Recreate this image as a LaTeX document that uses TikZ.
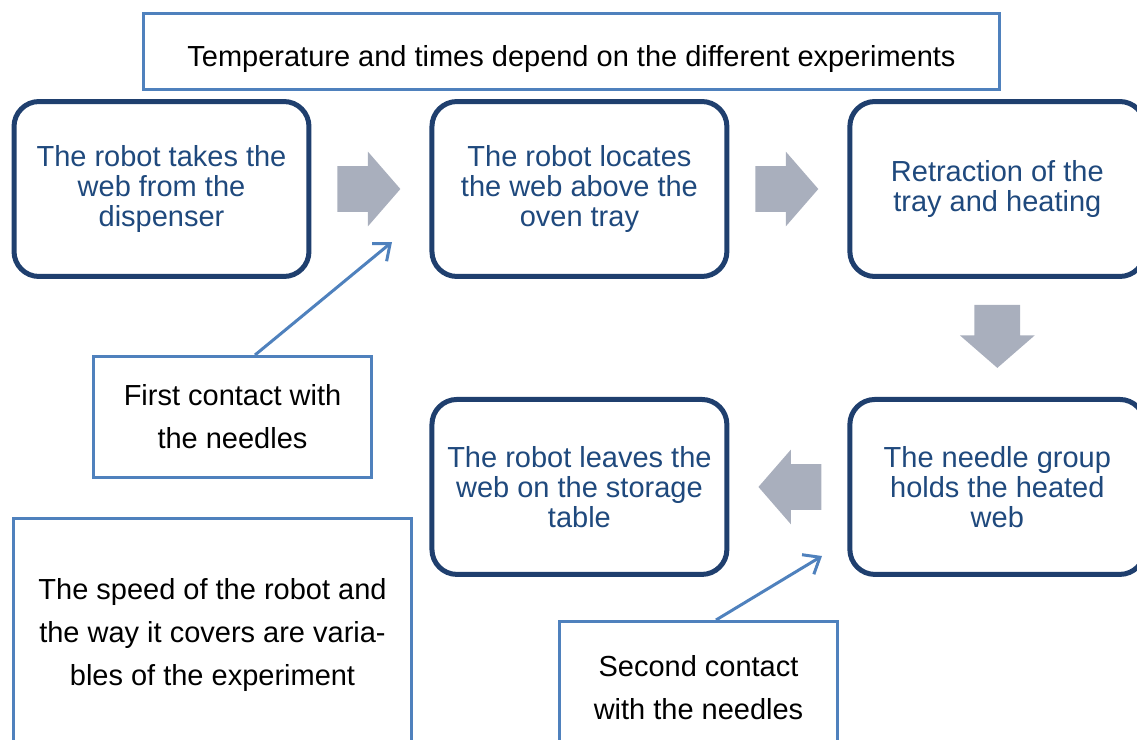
\documentclass[tikz,border=0pt]{standalone}
\usepackage{fontspec}
\setmainfont{Liberation Sans}
\usetikzlibrary{arrows.meta,shapes.arrows,positioning,calc}

\definecolor{boxline}{HTML}{1F3F6E}
\definecolor{textblue}{HTML}{1F497D}
\definecolor{noteline}{HTML}{4F81BD}
\definecolor{arrowgray}{HTML}{A9AFBD}

\begin{document}
\begin{tikzpicture}[
        x=0.02cm, y=-0.02cm,
        node distance=2.36cm and 2.36cm,
        stepbox/.style={draw=boxline, line width=0.1cm, rounded corners=0.5cm, fill=white, text=textblue, align=center, minimum width=5.9cm, minimum height=3.5cm, inner sep=0pt, font=\fontsize{16.5}{17}\selectfont},
        notebox/.style={draw=noteline, line width=0.06cm, fill=white, align=center, inner sep=0pt, font=\fontsize{16.5}{24.4}\selectfont},
        flow/.style={single arrow, fill=arrowgray, draw=none, inner xsep=0pt, inner ysep=0.45cm, minimum height=1.26cm, single arrow head extend=0.29cm, single arrow head indent=0pt, single arrow tip angle=98, rotate=#1, xshift=-0.23cm},
        flow/.default=0,
        notearrow/.style={draw=noteline, line width=0.06cm, -{Straight Barb[length=8pt, width=13pt]}}
    ]
    \useasboundingbox (0,0) rectangle (1137,740);
    \clip (0,0) rectangle (1137,740);

    % Notes
    \node[notebox, minimum width=17.12cm, minimum height=1.52cm, text height=0.74cm, text depth=0.12cm] (temp) at (571.5,51.5) {Temperature and times depend on the different experiments};
    \node[notebox, minimum width=5.56cm, minimum height=2.42cm] (first) at (232.5,417) {First contact with\\the needles};
    \node[notebox, minimum width=7.96cm, minimum height=4.68cm] (speed) at (212.5,635) {The speed of the robot and\\the way it covers are varia-\\bles of the experiment};
    \node[notebox, minimum width=5.56cm, minimum height=2.66cm] (second) at (698.5,688) {Second contact\\with the needles};

    % Steps
    \node[stepbox] (take) at (161.5,189) {The robot takes the\\web from the\\dispenser};
    \node[stepbox, right=of take] (locate) {The robot locates\\the web above the\\oven tray};
    \node[stepbox, right=of locate] (heat) {Retraction of the\\tray and heating};
    \node[stepbox, below=of heat] (hold) {The needle group\\holds the heated\\web};
    \node[stepbox, left=of hold] (leave) {The robot leaves the\\web on the storage\\table};

    % Edges
    \node[flow] (a1) at ($(take.east)!0.5!(locate.west)$) {};
    \node[flow] (a2) at ($(locate.east)!0.5!(heat.west)$) {};
    \node[flow=-90] (a3) at ($(heat.south)!0.5!(hold.north)$) {};
    \node[flow=180] (a4) at ($(hold.west)!0.5!(leave.east)$) {};

    \coordinate (tip1) at (392,242);
    \coordinate (tip2) at (822,556);
    \draw[notearrow] ([xshift=0.45cm]first.north) -- (tip1);
    \draw[notearrow] ([xshift=0.35cm]second.north) -- (tip2);

\end{tikzpicture}
\end{document}
